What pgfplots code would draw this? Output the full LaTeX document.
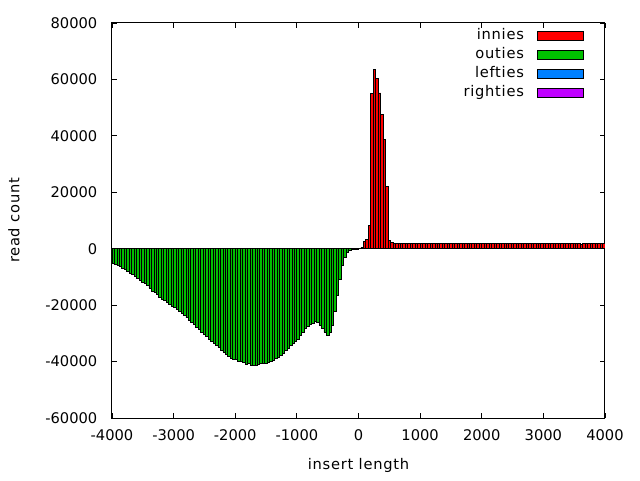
\documentclass[border=0pt]{standalone}
\usepackage{pgfplots}
\pgfplotsset{compat=1.18}
\usepackage{fontspec}
\setmainfont{DejaVu Sans}
\newfontfamily\lblfont[LetterSpace=5]{DejaVu Sans}
\definecolor{cinn}{RGB}{255,0,0}
\definecolor{cout}{RGB}{0,192,0}
\definecolor{clef}{RGB}{0,128,255}
\definecolor{crig}{RGB}{192,0,255}
\begin{document}
\begin{tikzpicture}
\begin{axis}[
  scale only axis,
  width=369.75pt, height=296.25pt,
  xmin=-4000, xmax=4000, ymin=-60000, ymax=80000,
  scaled y ticks=false, scaled x ticks=false,
  axis line style={line width=0.75pt},
  every tick/.style={black, line width=0.6pt},
  major tick length=3.5pt,
  xtick={-4000,-3000,-2000,-1000,0,1000,2000,3000,4000},
  xticklabels={-4000,-3000,-2000,-1000,0,1000,2000,3000,4000},
  ytick={-60000,-40000,-20000,0,20000,40000,60000,80000},
  yticklabels={-60000,-40000,-20000,0,20000,40000,60000,80000},
  tick label style={font=\fontsize{11pt}{13pt}\selectfont},
  xticklabel style={yshift=-5pt},
  yticklabel style={xshift=-7.5pt},
  label style={font=\fontsize{11pt}{13pt}\lblfont},
  xlabel={insert length},
  ylabel={read count},
  xlabel style={at={(axis description cs:0.5,0)}, anchor=center, yshift=-35.25pt},
  ylabel style={at={(axis description cs:0,0.5)}, anchor=center, yshift=73.5pt},
  legend plot pos=right,
  legend cell align=right,
  legend image code/.code={\draw[#1, draw=black, line width=0.6pt] (0pt,-3.4pt) rectangle (34.5pt,3.4pt);},
  legend style={at={(1,1)}, anchor=north east, xshift=-15.75pt, yshift=-4pt,
    draw=none, fill=none, inner sep=0pt, column sep=9.75pt, row sep=3.25pt,
    font=\fontsize{11pt}{13pt}\lblfont,
    nodes={inner xsep=0pt, inner ysep=1pt, text height=7pt, text depth=2pt}},
]
\addplot[ybar, bar width=40, bar shift=0pt, fill=cinn, draw=black, line width=0.6pt] coordinates {
(20,200) (60,590) (100,2460) (140,3280) (180,8400) (220,54900) (260,63500) (300,60400)
(340,55200) (380,47700) (420,38700) (460,22200) (500,2900) (540,2100)
(580,1750) (620,1750) (660,1750) (700,1750) (740,1750) (780,1750) (820,1750) (860,1750)
(900,1750) (940,1750) (980,1750) (1020,1750) (1060,1750) (1100,1750) (1140,1750) (1180,1750)
(1220,1750) (1260,1750) (1300,1750) (1340,1750) (1380,1750) (1420,1750) (1460,1750) (1500,1750)
(1540,1750) (1580,1750) (1620,1750) (1660,1750) (1700,1750) (1740,1750) (1780,1750) (1820,1750)
(1860,1750) (1900,1750) (1940,1750) (1980,1750) (2020,1750) (2060,1750) (2100,1750) (2140,1750)
(2180,1750) (2220,1750) (2260,1750) (2300,1750) (2340,1750) (2380,1750) (2420,1750) (2460,1750)
(2500,1750) (2540,1750) (2580,1750) (2620,1750) (2660,1750) (2700,1750) (2740,1750) (2780,1750)
(2820,1750) (2860,1750) (2900,1750) (2940,1750) (2980,1750) (3020,1750) (3060,1750) (3100,1750)
(3140,1750) (3180,1750) (3220,1750) (3260,1750) (3300,1750) (3340,1750) (3380,1750) (3420,1750)
(3460,1750) (3500,1750) (3540,1750) (3580,1750) (3620,1450) (3660,1750) (3700,1750) (3740,1750)
(3780,1750) (3820,1750) (3860,1750) (3900,1750) (3940,1750) (3980,1750)
};
\addlegendentry{innies}
\addplot[ybar, bar width=40, bar shift=0pt, fill=cout, draw=black, line width=0.6pt] coordinates {
(-3980,-5300) (-3940,-5550) (-3900,-6000) (-3860,-6400) (-3820,-7100) (-3780,-7400) (-3740,-8100) (-3700,-8700)
(-3660,-9100) (-3620,-9800) (-3580,-10600) (-3540,-11200) (-3500,-12000) (-3460,-12400) (-3420,-13100) (-3380,-14000)
(-3340,-15100) (-3300,-15500) (-3260,-16300) (-3220,-17200) (-3180,-17900) (-3140,-18400) (-3100,-19200) (-3060,-19800)
(-3020,-20300)
(-2980,-20800) (-2940,-21500) (-2900,-22300) (-2860,-23100) (-2820,-23800) (-2780,-24500) (-2740,-25300) (-2700,-26100)
(-2660,-27000) (-2620,-27800) (-2580,-28600) (-2540,-29500) (-2500,-30400) (-2460,-31200) (-2420,-32000) (-2380,-32800)
(-2340,-33500) (-2300,-34300) (-2260,-35100) (-2220,-35900) (-2180,-36600) (-2140,-37300) (-2100,-38000) (-2060,-38700)
(-2020,-39100)
(-1980,-39400) (-1940,-39800) (-1900,-40100) (-1860,-40400) (-1820,-41000) (-1780,-40700) (-1740,-41300) (-1700,-41200)
(-1660,-41200) (-1620,-40900) (-1580,-40600) (-1540,-40600) (-1500,-40500) (-1460,-40200) (-1420,-40000) (-1380,-39500)
(-1340,-39000) (-1300,-38400) (-1260,-37800) (-1220,-37000) (-1180,-36000) (-1140,-35200) (-1100,-34400) (-1060,-33700)
(-1020,-33000)
(-980,-32000) (-940,-30800) (-900,-29500) (-860,-28400) (-820,-27500) (-780,-26700) (-740,-26300) (-700,-25900)
(-660,-26100) (-620,-27300) (-580,-28100) (-540,-29600) (-500,-30700) (-460,-29600) (-420,-27100) (-380,-22200)
(-340,-16600) (-300,-10800) (-260,-5900) (-220,-3200) (-180,-1200) (-140,-600) (-100,-250) (-60,-100)
(-20,-400)
};
\addlegendentry{outies}
\addlegendimage{fill=clef}
\addlegendentry{lefties}
\addlegendimage{fill=crig}
\addlegendentry{righties}
\end{axis}
\pgfresetboundingbox
\path[use as bounding box] (-84pt,-46.5pt) rectangle (396pt,313.5pt);
\end{tikzpicture}
\end{document}
